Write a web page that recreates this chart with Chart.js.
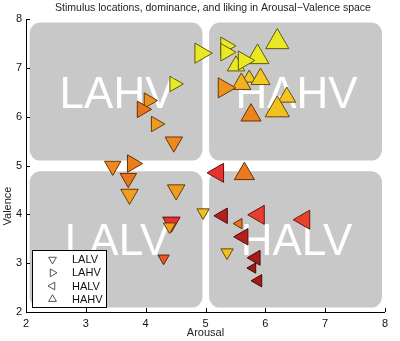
<!DOCTYPE html>
<html><head><meta charset="utf-8">
<script src="https://cdn.jsdelivr.net/npm/chart.js@4/dist/chart.umd.min.js"></script>
<style>html,body{margin:0;padding:0;background:#fff}#wrap{width:400px;height:341px;position:relative}</style>
</head><body><div id="wrap"><canvas id="c"></canvas></div>
<script>
// ---- data ----
const quadrantNames = ['LALV', 'LAHV', 'HALV', 'HAHV'];
const arousal   = [4.92,5.34,5.34,6.20,5.87,5.51,5.64,5.73,5.92,5.60,5.31,6.36,6.20,5.76,4.48,4.05,3.94,4.17,4.47,3.45,3.78,3.71,3.73,4.51,4.96,4.43,4.40,4.30,5.21,5.65,5.29,5.89,5.56,5.63,6.65,5.36,5.84,5.79,5.88];
const valence   = [7.30,7.45,7.32,7.53,7.22,7.04,7.15,6.79,6.77,6.67,6.59,6.40,6.14,6.03,6.67,6.33,6.15,5.85,5.48,4.99,5.04,4.74,4.41,4.50,4.04,3.84,3.75,3.10,4.85,4.83,3.97,3.99,3.81,3.54,3.89,3.22,3.11,2.90,2.64];
const dominance = [6.2,5.7,5.7,6.8,6.7,5.7,6.0,5.0,6.0,6.0,6.2,5.7,7.0,6.2,5.3,5.3,5.5,5.3,5.7,5.5,5.7,5.5,5.7,5.7,4.7,5.7,4.7,4.5,6.0,6.2,5.3,6.0,4.3,5.5,6.0,4.7,5.2,4.3,4.7];
const liking    = [8.0,8.0,8.0,8.0,8.0,8.0,8.0,6.9,6.9,6.4,5.7,6.8,6.7,5.4,8.0,5.7,5.1,5.9,5.5,5.5,5.3,5.1,6.0,5.9,6.7,4.0,6.0,4.6,4.0,5.2,3.3,4.2,5.1,3.3,4.3,6.7,3.1,3.0,3.1];
const quadrant  = ['LAHV','LAHV','LAHV','HAHV','HAHV','HAHV','LAHV','HAHV','HAHV','HAHV','LAHV','HAHV','HAHV','HAHV','LAHV','LAHV','LAHV','LAHV','LALV','LALV','LAHV','LALV','LALV','LALV','LALV','LALV','LALV','LALV','HALV','HAHV','HALV','HALV','HALV','HALV','HALV','LALV','HALV','HALV','HALV'];
const xTicks = [2,3,4,5,6,7,8];
const yTicks = [2,3,4,5,6,7,8];

// ---- styling helpers ----
const rotationOf = {LALV:180, LAHV:90, HALV:270, HAHV:0};
const cmapStops = [[3,[160,24,24]],[4,[232,48,48]],[5,[232,112,28]],[6,[240,160,32]],[7,[242,206,34]],[8,[232,232,36]]];
function cmap(v){
  if (v <= cmapStops[0][0]) return cmapStops[0][1];
  for (let i=1;i<cmapStops.length;i++){
    const [a,ca]=cmapStops[i-1],[b,cb]=cmapStops[i];
    if (v<=b){const t=(v-a)/(b-a);return ca.map((c,k)=>Math.round(c+(cb[k]-c)*t));}
  }
  return cmapStops[cmapStops.length-1][1];
}
const rgb = c => `rgb(${c[0]},${c[1]},${c[2]})`;
const radiusOf = d => 3*d - 7;

const points = arousal.map((a,i)=>({x:a, y:valence[i]}));

const FONT = '"Liberation Sans", Arial, Helvetica, sans-serif';

const bgPlugin = {
  id:'bg',
  beforeDatasetsDraw(chart){
    const {ctx, scales:{x,y}} = chart;
    const boxes = [
      {name:'LAHV', x0:2.06, x1:4.95, y0:5.10, y1:7.93},
      {name:'HAHV', x0:5.06, x1:7.95, y0:5.10, y1:7.93},
      {name:'LALV', x0:2.06, x1:4.95, y0:2.09, y1:4.88},
      {name:'HALV', x0:5.06, x1:7.95, y0:2.09, y1:4.88}
    ];
    ctx.save();
    boxes.forEach(b=>{
      const l=x.getPixelForValue(b.x0), r=x.getPixelForValue(b.x1);
      const t=y.getPixelForValue(b.y1), bt=y.getPixelForValue(b.y0);
      ctx.fillStyle='#c8c8c8';
      ctx.beginPath();
      ctx.roundRect(l,t,r-l,bt-t,11);
      ctx.fill();
      ctx.fillStyle='#ffffff';
      ctx.font='44px '+FONT;
      ctx.textAlign='center';
      ctx.textBaseline='alphabetic';
      ctx.fillText(b.name,(l+r)/2+1,(t+bt)/2+16);
    });
    ctx.restore();
  },
  afterDraw(chart){
    const {ctx, chartArea:ca, scales:{x,y}} = chart;
    ctx.save();
    // axes
    ctx.strokeStyle='#000'; ctx.lineWidth=1;
    ctx.beginPath();
    ctx.moveTo(ca.left+0.5, ca.top); ctx.lineTo(ca.left+0.5, ca.bottom+0.5);
    ctx.lineTo(ca.right, ca.bottom+0.5);
    xTicks.forEach(v=>{const p=Math.round(x.getPixelForValue(v))+0.5; ctx.moveTo(p,ca.bottom); ctx.lineTo(p,ca.bottom-4);});
    yTicks.forEach(v=>{const p=Math.round(y.getPixelForValue(v))+0.5; ctx.moveTo(ca.left,p); ctx.lineTo(ca.left+4,p);});
    ctx.stroke();
    // title
    ctx.fillStyle='#222';
    ctx.font='10.5px '+FONT;
    ctx.textAlign='center'; ctx.textBaseline='middle';
    ctx.fillText('Stimulus locations, dominance, and liking in Arousal\u2212Valence space', 213, 8);
    // axis titles
    ctx.font='11px '+FONT;
    ctx.fillText('Arousal', (ca.left+ca.right)/2, 333);
    ctx.save();
    ctx.translate(8, 206); ctx.rotate(-Math.PI/2);
    ctx.fillText('Valence', 0, 0);
    ctx.restore();
    // legend
    const lx=32, ly=250, lw=74, lh=57;
    ctx.fillStyle='#fff'; ctx.fillRect(lx,ly,lw,lh);
    ctx.strokeStyle='#000'; ctx.lineWidth=1; ctx.strokeRect(lx+0.5,ly+0.5,lw,lh);
    const rows=[259.5,272.8,286,299.2];
    quadrantNames.forEach((n,i)=>{
      ctx.strokeStyle='#555'; ctx.lineWidth=1;
      ctx.beginPath();
      const r=4.5, rad=rotationOf[n]*Math.PI/180;
      for(let k=0;k<3;k++){const a=rad+k*2*Math.PI/3; const px=52.5+Math.sin(a)*r, py=rows[i]-Math.cos(a)*r; k?ctx.lineTo(px,py):ctx.moveTo(px,py);}
      ctx.closePath(); ctx.stroke();
      ctx.fillStyle='#111'; ctx.font='11px '+FONT; ctx.textAlign='left'; ctx.textBaseline='middle';
      ctx.fillText(n, 72, rows[i]+0.5);
    });
    ctx.restore();
  }
};

new Chart(document.getElementById('c'), {
  type:'scatter',
  data:{datasets:[{
    data: points,
    pointStyle:'triangle',
    pointRadius: dominance.map(radiusOf),
    pointHoverRadius: dominance.map(radiusOf),
    pointRotation: quadrant.map(q=>rotationOf[q]),
    backgroundColor: liking.map(v=>rgb(cmap(v))),
    borderColor: liking.map(v=>{const c=cmap(v);return `rgb(${Math.round(c[0]*0.42)},${Math.round(c[1]*0.38)},${Math.round(c[2]*0.4)})`;}),
    borderWidth:1
  }]},
  options:{
    responsive:true, maintainAspectRatio:false, animation:false, events:[],
    layout:{padding:{top:19,right:5,left:0,bottom:0}},
    plugins:{legend:{display:false}, tooltip:{enabled:false}, title:{display:false}},
    scales:{
      x:{type:'linear', min:2, max:8,
         afterBuildTicks(s){s.ticks=xTicks.map(v=>({value:v}));},
         afterFit(s){s.height=29;},
         grid:{display:false, drawTicks:false}, border:{display:false},
         ticks:{padding:5, color:'#111', font:{family:FONT,size:11}}},
      y:{type:'linear', min:2, max:8,
         afterBuildTicks(s){s.ticks=yTicks.map(v=>({value:v}));},
         afterFit(s){s.width=26;},
         grid:{display:false, drawTicks:false}, border:{display:false},
         ticks:{padding:4, color:'#111', font:{family:FONT,size:11}}}
    }
  },
  plugins:[bgPlugin]
});
</script>
</body></html>
